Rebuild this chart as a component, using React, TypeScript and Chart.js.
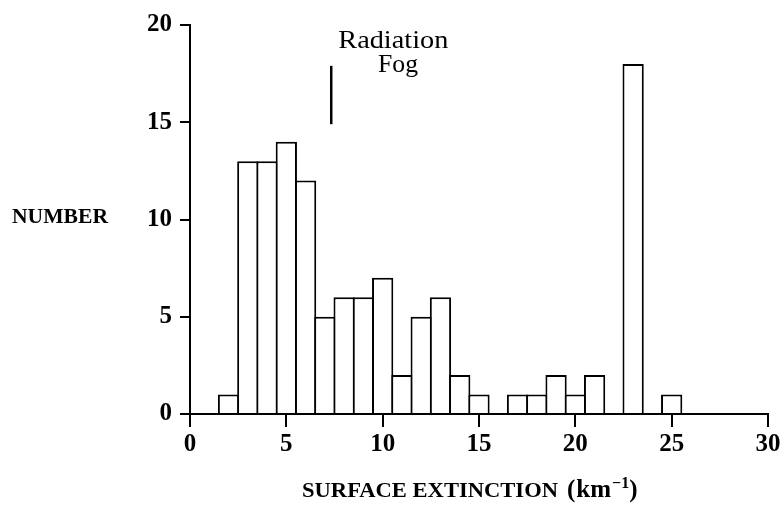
import React, { useEffect, useRef } from 'react';
import { Chart, registerables } from 'chart.js';

Chart.register(...registerables);

// ---- data ----
const binCenters = [2, 3, 4, 5, 6, 7, 8, 9, 10, 11, 12, 13, 14, 15, 16, 17, 18, 19, 20, 21, 22, 23, 24, 25];
const counts = [1, 13, 13, 14, 12, 5, 6, 6, 7, 2, 5, 6, 2, 1, 0, 1, 1, 2, 1, 2, 0, 18, 0, 1];
const xTickValues = [0, 5, 10, 15, 20, 25, 30];
const yTickValues = [0, 5, 10, 15, 20];
const fogMarkerX = 7.33;
const fogMarkerY = [14.9, 17.9];
const annotationLines = ['Radiation', 'Fog'];
const yTitle = 'NUMBER';
const xTitleMain = 'SURFACE EXTINCTION';
const xTitleUnit = 'km';
const xTitleExp = '\u22121';

const SERIF = '"Liberation Serif", "Times New Roman", serif';

function fitText(ctx: CanvasRenderingContext2D, text: string, x: number, y: number, targetW: number, align: 'left' | 'center' = 'left') {
  const w = ctx.measureText(text).width;
  const sx = targetW / w;
  ctx.save();
  ctx.translate(align === 'center' ? x - targetW / 2 : x, y);
  ctx.scale(sx, 1);
  ctx.textAlign = 'left';
  ctx.fillText(text, 0, 0);
  ctx.restore();
}

const annotationPlugin = {
  id: 'annot',
  afterDraw(chart: any) {
    const ctx: CanvasRenderingContext2D = chart.ctx;
    const xs = chart.scales.x;
    const ys = chart.scales.y;
    ctx.save();
    ctx.fillStyle = '#000';
    ctx.strokeStyle = '#000';
    ctx.textBaseline = 'alphabetic';

    // fog marker line
    const px = xs.getPixelForValue(fogMarkerX);
    ctx.lineWidth = 2.5;
    ctx.beginPath();
    ctx.moveTo(px, ys.getPixelForValue(fogMarkerY[1]));
    ctx.lineTo(px, ys.getPixelForValue(fogMarkerY[0]));
    ctx.stroke();

    // Radiation Fog text
    ctx.font = `26px ${SERIF}`;
    fitText(ctx, annotationLines[0], 393.3, 47.5, 110, 'center');
    fitText(ctx, annotationLines[1], 398, 71.5, 40, 'center');

    // y title
    ctx.font = `bold 22px ${SERIF}`;
    fitText(ctx, yTitle, 12, 223.3, 96);

    // x title
    ctx.font = `bold 21px ${SERIF}`;
    fitText(ctx, xTitleMain, 302, 497, 256);
    ctx.font = `bold 25px ${SERIF}`;
    let x = 567;
    ctx.fillText('(', x, 497);
    x += ctx.measureText('(').width + 1;
    ctx.fillText(xTitleUnit, x, 497);
    x += ctx.measureText(xTitleUnit).width + 1;
    ctx.font = `bold 16px ${SERIF}`;
    ctx.fillText(xTitleExp, x, 488);
    x += ctx.measureText(xTitleExp).width;
    ctx.font = `bold 25px ${SERIF}`;
    ctx.fillText(')', x, 497);
    ctx.restore();
  },
};

export default function App() {
  const ref = useRef<HTMLCanvasElement>(null);
  useEffect(() => {
    document.body.style.margin = '0';
    const canvas = ref.current!;
    const tickFont = { family: SERIF, size: 25, weight: 'bold' as const };
    const chart = new Chart(canvas, {
      type: 'bar',
      data: {
        datasets: [
          {
            data: binCenters.map((x, i) => ({ x, y: counts[i] })),
            backgroundColor: '#ffffff',
            borderColor: '#000000',
            borderWidth: 2,
            borderSkipped: 'start',
            barPercentage: 1.104,
            categoryPercentage: 1,
            inflateAmount: 0,
          } as any,
        ],
      },
      options: {
        animation: false,
        responsive: false,
        devicePixelRatio: 1,
        layout: { padding: { left: 0, right: 15, top: 25, bottom: 0 } },
        plugins: { legend: { display: false }, tooltip: { enabled: false } },
        scales: {
          x: {
            type: 'linear',
            min: 0,
            max: 30,
            offset: false,
            afterBuildTicks: (s: any) => {
              s.ticks = xTickValues.map((v) => ({ value: v }));
            },
            afterFit: (s: any) => {
              s.height = 96;
              s.paddingLeft = 0;
              s.paddingRight = 0;
            },
            ticks: { font: tickFont, color: '#000', padding: 3, maxRotation: 0, autoSkip: false },
            grid: { offset: false, drawOnChartArea: false, drawTicks: true, tickLength: 13, color: '#000', lineWidth: 2 },
            border: { display: true, color: '#000', width: 2, z: 1 },
          } as any,
          y: {
            type: 'linear',
            min: 0,
            max: 20,
            afterBuildTicks: (s: any) => {
              s.ticks = yTickValues.map((v) => ({ value: v }));
            },
            afterFit: (s: any) => {
              s.width = 190;
              s.paddingTop = 0;
              s.paddingBottom = 0;
            },
            ticks: { font: tickFont, color: '#000', padding: 8 },
            grid: { offset: false, drawOnChartArea: false, drawTicks: true, tickLength: 10, color: '#000', lineWidth: 2 },
            border: { display: true, color: '#000', width: 2, z: 1 },
          } as any,
        },
      },
      plugins: [annotationPlugin],
    });
    return () => chart.destroy();
  }, []);
  return <canvas ref={ref} width={783} height={510} style={{ display: 'block' }} />;
}
